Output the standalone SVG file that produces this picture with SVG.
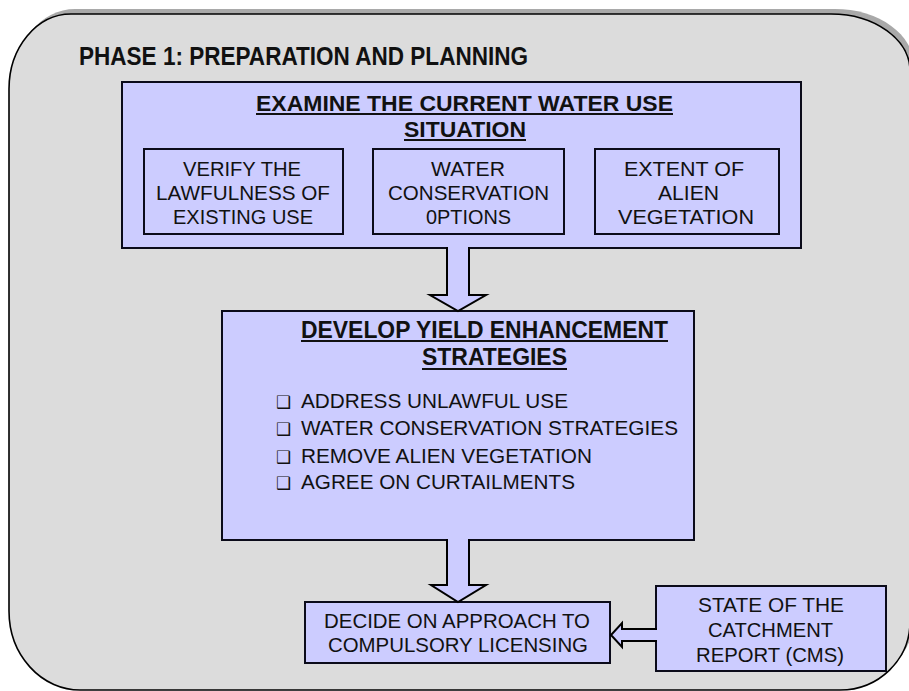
<svg xmlns="http://www.w3.org/2000/svg" width="909" height="691" viewBox="0 0 909 691">
  <style>
    .panel { fill: #dcdcdc; stroke: #000; stroke-width: 1.6; }
    .panel-shadow { fill: #a9a9a9; }
    .box { fill: #ccccff; stroke: #0b0b1a; stroke-width: 2; }
    .arrow { fill: #ccccff; stroke: #000; stroke-width: 2; stroke-linejoin: miter; }
    .t { font-family: "Liberation Sans", Arial, sans-serif; fill: #111; }
    .b { font-weight: bold; }
    .u { stroke: #111; stroke-width: 2; }
    .bullet { font-family: "DejaVu Sans", sans-serif; font-size: 17px; fill: #111; }
  </style>

  <!-- background panel with its offset shadow -->
  <g id="panel">
    <path class="panel-shadow" transform="translate(4,-5)" d="M71,14 L831,14 A79,57 0 0 1 910,71 L910,622 A70,68 0 0 1 840,690 L80,690 A71,79 0 0 1 9,611 L9,89 A62,75 0 0 1 71,14 Z"/>
    <path class="panel" d="M71,14 L831,14 A79,57 0 0 1 910,71 L910,622 A70,68 0 0 1 840,690 L80,690 A71,79 0 0 1 9,611 L9,89 A62,75 0 0 1 71,14 Z"/>
    <text class="t b" x="79" y="65" font-size="26" textLength="449" lengthAdjust="spacingAndGlyphs">PHASE 1: PREPARATION AND PLANNING</text>
  </g>

  <!-- examine the current situation -->
  <g id="examine">
    <rect class="box" x="122" y="82" width="679" height="166"/>
    <text class="t b" x="256" y="111" font-size="22" textLength="417" lengthAdjust="spacingAndGlyphs">EXAMINE THE CURRENT WATER USE</text>
    <line class="u" x1="256" y1="114" x2="673" y2="114"/>
    <text class="t b" x="404" y="137" font-size="22" textLength="122" lengthAdjust="spacingAndGlyphs">SITUATION</text>
    <line class="u" x1="404" y1="140" x2="526" y2="140"/>
  </g>

  <g id="verify">
    <rect class="box" x="144" y="149" width="199" height="85"/>
    <text class="t" x="183" y="176" font-size="21" textLength="118" lengthAdjust="spacingAndGlyphs">VERIFY THE</text>
    <text class="t" x="156" y="200" font-size="21" textLength="174" lengthAdjust="spacingAndGlyphs">LAWFULNESS OF</text>
    <text class="t" x="173" y="224" font-size="21" textLength="140" lengthAdjust="spacingAndGlyphs">EXISTING USE</text>
  </g>

  <g id="conservation">
    <rect class="box" x="373" y="149" width="191" height="85"/>
    <text class="t" x="431" y="176" font-size="21" textLength="74" lengthAdjust="spacingAndGlyphs">WATER</text>
    <text class="t" x="388" y="200" font-size="21" textLength="161" lengthAdjust="spacingAndGlyphs">CONSERVATION</text>
    <text class="t" x="426" y="224" font-size="21" textLength="85" lengthAdjust="spacingAndGlyphs">0PTIONS</text>
  </g>

  <g id="alien">
    <rect class="box" x="595" y="149" width="184" height="85"/>
    <text class="t" x="624" y="176" font-size="21" textLength="120" lengthAdjust="spacingAndGlyphs">EXTENT OF</text>
    <text class="t" x="658" y="200" font-size="21" textLength="61" lengthAdjust="spacingAndGlyphs">ALIEN</text>
    <text class="t" x="618" y="224" font-size="21" textLength="136" lengthAdjust="spacingAndGlyphs">VEGETATION</text>
  </g>

  <!-- yield enhancement strategies -->
  <g id="develop">
    <rect class="box" x="222" y="311" width="472" height="229"/>
    <text class="t b" x="301" y="338" font-size="23" textLength="367" lengthAdjust="spacingAndGlyphs">DEVELOP YIELD ENHANCEMENT</text>
    <line class="u" x1="301" y1="341" x2="668" y2="341"/>
    <text class="t b" x="422" y="365" font-size="23" textLength="145" lengthAdjust="spacingAndGlyphs">STRATEGIES</text>
    <line class="u" x1="422" y1="369" x2="567" y2="369"/>
    <text class="bullet" x="276" y="408">❑</text>
    <text class="t" x="301" y="408" font-size="20.5" textLength="267" lengthAdjust="spacingAndGlyphs">ADDRESS UNLAWFUL USE</text>
    <text class="bullet" x="276" y="435">❑</text>
    <text class="t" x="301" y="435" font-size="20.5" textLength="377" lengthAdjust="spacingAndGlyphs">WATER CONSERVATION STRATEGIES</text>
    <text class="bullet" x="276" y="463">❑</text>
    <text class="t" x="301" y="463" font-size="20.5" textLength="291" lengthAdjust="spacingAndGlyphs">REMOVE ALIEN VEGETATION</text>
    <text class="bullet" x="276" y="489">❑</text>
    <text class="t" x="301" y="489" font-size="20.5" textLength="274" lengthAdjust="spacingAndGlyphs">AGREE ON CURTAILMENTS</text>
  </g>

  <!-- licensing decision -->
  <g id="decide">
    <rect class="box" x="305" y="602" width="305" height="61"/>
    <text class="t" x="324" y="628" font-size="21" textLength="266" lengthAdjust="spacingAndGlyphs">DECIDE ON APPROACH TO</text>
    <text class="t" x="328" y="652" font-size="21" textLength="260" lengthAdjust="spacingAndGlyphs">COMPULSORY LICENSING</text>
  </g>

  <!-- catchment report -->
  <g id="catchment">
    <rect class="box" x="656" y="586" width="230" height="85"/>
    <text class="t" x="698" y="612" font-size="21" textLength="146" lengthAdjust="spacingAndGlyphs">STATE OF THE</text>
    <text class="t" x="708" y="637" font-size="21" textLength="125" lengthAdjust="spacingAndGlyphs">CATCHMENT</text>
    <text class="t" x="696" y="662" font-size="21" textLength="148" lengthAdjust="spacingAndGlyphs">REPORT (CMS)</text>
  </g>

  <!-- block arrows between the stages -->
  <g id="connectors">
    <path class="arrow" d="M447,247 L447,295 L430,295 L458,311 L486,295 L469,295 L469,247"/>
    <path class="arrow" d="M447,539 L447,585 L431,585 L458,602 L486,585 L469,585 L469,539"/>
    <path class="arrow" d="M657,629 L622,629 L622,623 L611,635 L622,647 L622,641 L657,641"/>
  </g>
</svg>
